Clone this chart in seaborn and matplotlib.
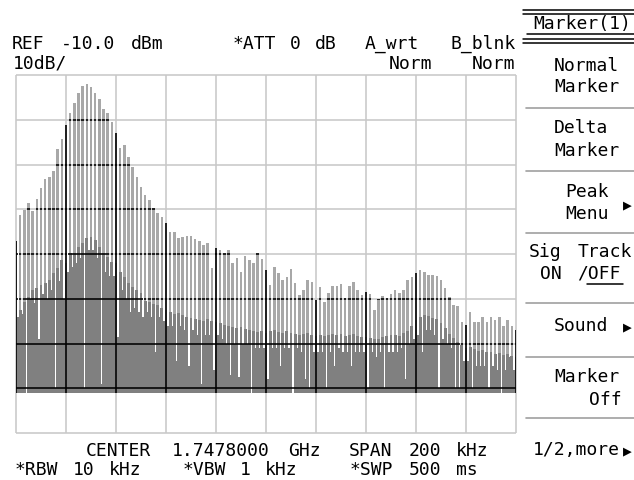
import numpy as np
import matplotlib
matplotlib.use("Agg")
import matplotlib.pyplot as plt
from matplotlib.patches import Polygon
from matplotlib.lines import Line2D
import seaborn as sns

# ---- analyzer settings -------------------------------------------------
center_ghz = 1.7478
span_khz = 200
ref_dbm = -10.0
db_per_div = 10
n_hdiv = 10
n_vdiv = 8
att_db = 0
rbw_khz = 10
vbw_khz = 1
sweep_ms = 500
floor_dbm = -81.0

# ---- trace: burst peaks, dense body level and notch depth ---------------
peak_dbm = [
    -47.2, -41.3, -40.2, -38.7, -40.5, -37.6, -35.3, -33.3, -32.7, -31.4,
    -26.6, -24.4, -21.2, -18.6, -16.3, -14.1, -12.5, -11.9, -12.6, -14.1,
    -15.4, -17.7, -18.5, -20.4, -23.0, -26.4, -25.6, -28.3, -30.6, -32.7,
    -35.0, -36.8, -37.9, -39.8, -40.9, -41.8, -43.1, -45.0, -45.0, -46.5,
    -46.3, -46.0, -46.0, -46.7, -47.2, -48.0, -47.6, -53.2, -48.7, -49.1,
    -49.8, -49.1, -52.1, -51.0, -54.0, -50.4, -51.3, -52.1, -49.8, -51.2,
    -53.5, -57.0, -53.0, -54.3, -55.7, -55.2, -53.4, -56.5, -59.2, -58.0,
    -55.7, -56.2, -60.3, -57.4, -60.7, -58.8, -57.2, -57.2, -56.7, -59.9,
    -57.2, -56.2, -58.0, -59.2, -58.4, -58.9, -62.5, -60.1, -59.4, -59.9,
    -58.9, -58.0, -58.8, -58.0, -55.8, -55.1, -54.3, -53.6, -54.0, -54.7,
    -54.7, -54.9, -55.8, -57.7, -59.5, -61.4, -61.6, -65.1, -65.9, -62.9,
    -65.1, -65.1, -64.0, -65.1, -64.0, -64.7, -64.0, -66.2, -64.7, -66.2,
    -67.0,
]

body_dbm = [
    -47.2, -62.5, -60.7, -59.5, -58.0, -57.7, -56.9, -56.5, -55.8, -54.3,
    -53.2, -51.3, -52.1, -49.8, -49.8, -48.4, -47.6, -46.5, -46.1, -46.9,
    -48.4, -49.8, -50.6, -51.7, -52.1, -54.0, -55.1, -56.5, -57.3, -58.0,
    -58.8, -60.5, -60.8, -61.2, -61.5, -62.0, -62.6, -63.0, -63.3, -63.2,
    -63.6, -64.0, -64.2, -64.5, -64.8, -65.0, -64.6, -64.9, -65.2, -65.5,
    -65.8, -66.0, -66.3, -66.6, -66.4, -66.8, -67.0, -67.3, -67.5, -67.2,
    -67.6, -67.2, -67.0, -67.4, -67.6, -67.2, -67.6, -67.9, -68.1, -67.8,
    -67.6, -68.0, -68.3, -68.1, -68.4, -68.2, -67.9, -68.1, -67.8, -68.4,
    -68.1, -67.9, -68.3, -68.6, -68.5, -68.7, -69.1, -68.9, -68.6, -68.4,
    -68.2, -68.0, -68.3, -67.6, -67.2, -66.0, -64.8, -64.0, -63.6, -63.8,
    -64.2, -64.6, -65.4, -66.6, -67.8, -68.8, -69.6, -70.4, -71.0, -70.8,
    -71.3, -71.6, -71.4, -71.9, -72.0, -72.3, -72.1, -72.6, -72.4, -72.8,
    -73.0,
]

notch_dbm = [
    -64, -63.5, -81, -60, -61, -69, -59, -60, -58, -80,
    -56, -60, -54, -53, -52, -51, -80, -49, -49, -51,
    -79, -54, -55, -55, -68.5, -58, -60, -63, -62, -63,
    -64, -63, -64, -72, -64, -65, -66, -66, -74, -66,
    -67, -75, -67, -68, -79, -68, -68, -76, -68, -69,
    -70, -77, -70, -77.5, -70, -70, -81, -71, -71, -71,
    -78, -71, -71, -75, -71, -71, -81, -71, -72, -78,
    -80, -72, -72, -72, -80, -72, -75, -71, -72, -72,
    -75, -72, -72, -72, -80, -72, -73, -72, -80, -72,
    -72, -72, -71, -78, -70, -69, -68, -72, -67, -67,
    -68, -80, -69, -70, -71, -80, -80, -74, -74, -80,
    -75, -75, -75, -80, -75, -76, -81, -76, -73, -76,
]

menu_title = "Marker(1)"

# ---- colours -----------------------------------------------------------
GRID = "#c8c8c8"
PEAK = "#a8a8a8"
BODY = "#808080"
SEP = "#a0a0a0"

sns.set_theme(style="white")
plt.rcParams["font.family"] = ["DejaVu Sans Mono", "DejaVu Sans"]
FS = 13.0
PITCH = 11.95                     # character cell of the screen font, px
ADV = 0.602 * FS * 100 / 72       # glyph advance of the drawing font, px

W, H = 634, 480
fig = plt.figure(figsize=(W / 100, H / 100), dpi=100)
fig.patch.set_facecolor("white")

gx0, gx1, gy0, gy1 = 16, 516, 75, 433
ax = fig.add_axes([gx0 / W, 1 - gy1 / H, (gx1 - gx0) / W, (gy1 - gy0) / H])
bottom_dbm = ref_dbm - n_vdiv * db_per_div
half = span_khz / 2
ax.set_xlim(-half, half)
ax.set_ylim(bottom_dbm, ref_dbm)
ax.axis("off")

peak = np.array(peak_dbm)
body = np.array(body_dbm)
notch = np.array(notch_dbm)
n = min(len(peak), len(body))
peak, body = peak[:n], body[:n]
notch = notch[: n - 1]
freq = np.linspace(-half, half, n)
step = freq[1] - freq[0]
bar_w = 0.62 * step
notch_w = 0.34 * step

grid_x = np.linspace(-half, half, n_hdiv + 1)
grid_y = np.linspace(bottom_dbm, ref_dbm, n_vdiv + 1)

# graticule
ax.vlines(grid_x, bottom_dbm, ref_dbm, color=GRID, lw=1.15, zorder=1, clip_on=False)
ax.hlines(grid_y, -half, half, color=GRID, lw=1.15, zorder=1, clip_on=False)

# burst peaks
ax.bar(freq, peak - floor_dbm, width=bar_w, bottom=floor_dbm,
       color=PEAK, linewidth=0, zorder=2)
# dense body of the trace
ax.fill_between(freq, floor_dbm, body, step="mid", color=BODY, lw=0, zorder=3)
# white notches between bursts cutting into the body
mid = (freq[:-1] + freq[1:]) / 2
upper = np.maximum(body[:-1], body[1:])
cut = notch < upper
ax.bar(mid[cut], (upper - notch)[cut], width=notch_w, bottom=notch[cut],
       color="white", linewidth=0, zorder=4)

# outline of the whole trace; the graticule shows black where it crosses it
pts = [(freq[0] - step / 2, floor_dbm)]
for f, p, b in zip(freq, peak, body):
    hi = max(p, b)
    xl, xr = f - bar_w / 2, f + bar_w / 2
    pts += [(f - step / 2, b), (xl, b), (xl, hi), (xr, hi), (xr, b), (f + step / 2, b)]
pts.append((freq[-1] + step / 2, floor_dbm))
outline = Polygon(pts, closed=True, transform=ax.transData)

vl = ax.vlines(grid_x, bottom_dbm, ref_dbm, color="black", lw=1.15, zorder=5)
hl = ax.hlines(grid_y, -half, half, color="black", lw=1.15, zorder=5)
vl.set_clip_path(outline)
hl.set_clip_path(outline)


# ---- screen text -------------------------------------------------------
def put_line(line, x, y, **kw):
    """Write a line word by word on the screen's fixed character grid."""
    pos = 0
    for word in line.split(" "):
        if word:
            xw = x + pos * PITCH + len(word) * (PITCH - ADV) / 2
            fig.text(xw / W, 1 - y / H, word, ha="left", va="baseline",
                     fontsize=FS, color="black", **kw)
        pos += len(word) + 1


def arrow(x, y):
    fig.text(x / W, 1 - y / H, "\u25b6", ha="left", va="baseline",
             fontsize=10.5, color="black")


def hline(x0, x1, y, color="black", lw=1.1):
    fig.add_artist(Line2D([x0 / W, x1 / W], [1 - y / H, 1 - y / H],
                          transform=fig.transFigure, color=color, lw=lw))


put_line(f"REF {ref_dbm:.1f} dBm", 10, 49)
put_line(f"*ATT {att_db} dB", 230, 49)
put_line("A_wrt", 362, 49)
put_line("B_blnk", 447, 49)
put_line(f"{db_per_div}dB/", 10, 69)
put_line("Norm", 387, 69)
put_line("Norm", 470, 69)

put_line(f"CENTER {center_ghz:.7f} GHz", 83, 456)
put_line(f"SPAN {span_khz} kHz", 347, 456)
put_line(f"*RBW {rbw_khz} kHz", 12, 475)
put_line(f"*VBW {vbw_khz} kHz", 180, 475)
put_line(f"*SWP {sweep_ms} ms", 347, 475)

# soft-key panel
hline(523, 634, 10)
hline(523, 634, 14)
put_line(menu_title, 528, 29)
hline(527, 634, 34)
hline(523, 634, 39)
hline(523, 634, 43)

put_line("Normal", 551, 71)
put_line("Marker", 551, 92)
hline(526, 634, 108, SEP, 1.2)
put_line("Delta", 551, 133)
put_line("Marker", 551, 156)
hline(526, 634, 171, SEP, 1.2)
put_line("Peak", 563, 197)
put_line("Menu", 563, 219)
arrow(623, 209)
hline(526, 634, 233, SEP, 1.2)
put_line("Sig Track", 527, 257)
put_line("ON /OFF", 539, 279)
hline(539 + 4 * PITCH, 539 + 7 * PITCH, 284)
hline(526, 634, 303, SEP, 1.2)
put_line("Sound", 551, 331)
arrow(623, 331)
hline(526, 634, 357, SEP, 1.2)
put_line("Marker", 551, 382)
put_line("Off", 587, 405)
hline(526, 634, 418, SEP, 1.2)
put_line("1/2,more", 528, 455)
arrow(623, 455)

fig.savefig("out.png", dpi=100, facecolor="white")
